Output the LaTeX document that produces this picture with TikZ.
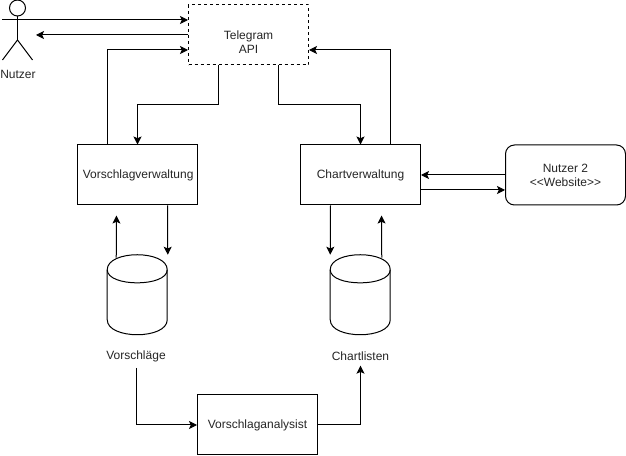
\documentclass[tikz,border=0pt]{standalone}
\usepackage{fontspec}
\setmainfont{Liberation Sans}
\usetikzlibrary{arrows.meta,calc}
\tikzset{
  x=0.75pt,y=-0.75pt,
  every node/.style={font=\fontsize{9}{10.5}\selectfont,text=black!85,align=center,inner sep=0pt},
  shp/.style={draw=black,line width=0.75pt},
  boxn/.style={shp,rectangle,minimum width=90pt,minimum height=45pt},
  dashbox/.style={boxn,dash pattern=on 2.25pt off 2.25pt},
  roundbox/.style={boxn,rounded corners=6.75pt},
  cylbox/.style={rectangle,minimum width=45pt,minimum height=60pt},
  arr/.style={line width=0.75pt,-{Stealth[length=6pt,width=6pt,inset=1.3pt]}},
  lne/.style={line width=0.75pt}
}
\begin{document}
\begin{tikzpicture}
\useasboundingbox (0,0) rectangle (626,456);
\fill[white] (0,0) rectangle (626,456);
% boxes
\node[dashbox,label={[yshift=-5.6pt]center:Telegram\\API}] (tg) at (248.5,35) {};
\node[boxn] (vv) at (137.5,175) {\hspace{1pt}Vorschlagverwaltung};
\node[boxn] (cv) at (360.5,175) {Chartverwaltung};
\node[roundbox] (n2) at (565.5,175) {Nutzer 2\\{<}{<}Website{>}{>}};
\node[boxn] (va) at (257.5,425) {Vorschlaganalysist};
% cylinders
\node[cylbox] (c1) at (137.5,295) {};
\node[cylbox] (c2) at (360.5,295) {};
\foreach \c in {c1,c2}{
  \draw[shp] (\c.north west) ++(0,15) .. controls +(0,-20) and +(0,-20) .. ++(60,0)
     -- ++(0,50) .. controls +(0,20) and +(0,20) .. ++(-60,0) -- cycle;
  \draw[shp] (\c.north west) ++(0,15) .. controls +(0,17.5) and +(0,17.5) .. ++(60,0);
}
\node (lv) at (136,356) {Vorschläge};
\node (lc) at (360.5,356) {Chartlisten};
% actor
\node[shp,circle,minimum size=12pt] (head) at (17.5,8) {};
\coordinate (hip) at (17.5,40);
\coordinate (armL) at (2.5,20);
\coordinate (armR) at (32.5,20);
\draw[lne] (head.south) -- (hip);
\draw[lne] (armL) -- (armR);
\draw[lne] (2.5,60) -- (hip) -- (32.5,60);
\node (ln) at (18,74.5) {Nutzer};
\coordinate (afrom) at (2,20);
\coordinate (ato) at (36,35);
% connectors
\draw[arr] (afrom) -- (afrom -| tg.west);
\draw[arr] (ato -| tg.west) -- (ato);
\draw[arr] ([xshift=-22.5pt]vv.north) |- ([yshift=-11.25pt]tg.west);
\draw[arr] ([xshift=-22.5pt]tg.south) |- ($(vv.north)+(0,-40)$) -- (vv.north);
\draw[arr] ([xshift=22.5pt]tg.south) |- ($(cv.north)+(0,-40)$) -- (cv.north);
\draw[arr] ([xshift=22.5pt]cv.north) |- ([yshift=-11.25pt]tg.east);
\draw[arr] (n2.west) -- (cv.east);
\draw[arr] ([yshift=-11.25pt]cv.east) -- ([yshift=-11.25pt]n2.west);
\draw[arr] ([xshift=22.5pt]vv.south) -- (c1.north east);
\draw[arr] ($(c1.north west)+(9,3)$) -- ($(vv.south)+(-21,10)$);
\draw[arr] ([xshift=-22.5pt]cv.south) -- (c2.north west);
\draw[arr] ($(c2.north east)+(-9,3)$) -- ($(cv.south)+(21,10)$);
\draw[arr] ($(lv.south)+(0,6)$) |- (va.west);
\draw[arr] (va.east) -| ($(lc.south)+(0,5)$);
\end{tikzpicture}
\end{document}
